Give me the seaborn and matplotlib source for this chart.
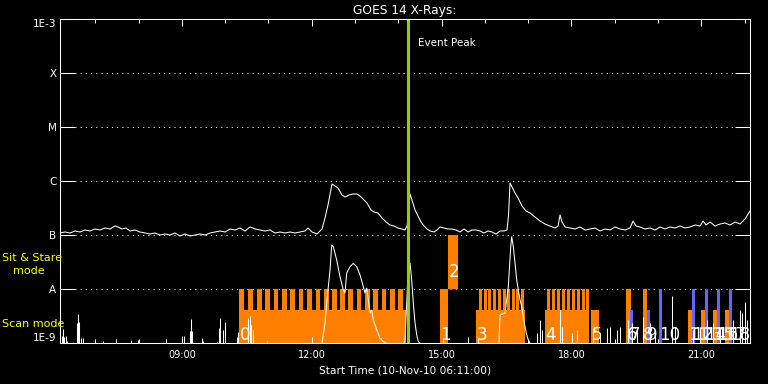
import numpy as np
import matplotlib
matplotlib.use("Agg")
import matplotlib.pyplot as plt
import seaborn as sns
from matplotlib.ticker import FixedLocator, NullLocator

# ---------------- data ----------------
start_hour, end_hour = 6.1833, 22.125          # 06:11 .. ~22:07
event_peak = 14.23

# GOES long channel (1-8 A), hours and flux in units of 1e-7 W/m^2
long_hours = [
    6.183, 6.299, 6.414, 6.530, 6.645, 6.761, 6.876, 6.992, 7.108, 7.223,
    7.339, 7.454, 7.523, 7.616, 7.708, 7.801, 7.916, 8.032, 8.147, 8.263,
    8.378, 8.494, 8.609, 8.725, 8.840, 8.956, 9.071, 9.187, 9.303, 9.418,
    9.534, 9.649, 9.765, 9.880, 9.996, 10.111, 10.227, 10.342, 10.458, 10.573,
    10.689, 10.804, 10.920, 11.035, 11.151, 11.266, 11.382, 11.497, 11.613, 11.728,
    11.844, 11.913, 12.006, 12.121, 12.237, 12.306, 12.375, 12.468, 12.537, 12.606,
    12.699, 12.768, 12.861, 12.953, 13.045, 13.115, 13.207, 13.277, 13.369, 13.438,
    13.531, 13.623, 13.716, 13.808, 13.900, 13.993, 14.085, 14.154, 14.201, 14.235,
    14.270, 14.316, 14.386, 14.455, 14.524, 14.593, 14.663, 14.732, 14.825, 14.894,
    14.963, 15.056, 15.148, 15.240, 15.333, 15.425, 15.518, 15.610, 15.703, 15.795,
    15.887, 15.980, 16.072, 16.165, 16.257, 16.350, 16.442, 16.511, 16.546, 16.581,
    16.627, 16.696, 16.765, 16.858, 16.950, 17.043, 17.158, 17.274, 17.389, 17.505,
    17.620, 17.690, 17.736, 17.782, 17.852, 17.967, 18.083, 18.198, 18.314, 18.429,
    18.545, 18.660, 18.776, 18.891, 19.007, 19.122, 19.238, 19.353, 19.423, 19.492,
    19.584, 19.700, 19.815, 19.931, 20.046, 20.162, 20.277, 20.393, 20.508, 20.624,
    20.739, 20.855, 20.971, 21.040, 21.109, 21.202, 21.317, 21.433, 21.548, 21.664,
    21.779, 21.895, 22.010, 22.125,
]
long_flux_e7 = [
    1.089, 1.137, 1.089, 1.186, 1.137, 1.238, 1.186, 1.292, 1.238, 1.348,
    1.292, 1.468, 1.407, 1.292, 1.348, 1.186, 1.238, 1.137, 1.089, 1.043,
    1.089, 1.000, 1.043, 1.000, 1.089, 0.958, 1.043, 0.958, 1.000, 1.043,
    1.000, 1.089, 1.137, 1.186, 1.137, 1.292, 1.238, 1.348, 1.186, 1.407,
    1.292, 1.238, 1.186, 1.238, 1.089, 1.137, 1.089, 1.137, 1.089, 1.137,
    1.186, 1.348, 1.137, 1.043, 1.292, 2.064, 3.594, 8.80, 8.08, 7.42,
    5.505, 5.054, 5.505, 5.745, 5.745, 5.275, 4.448, 3.914, 2.904, 2.667,
    2.555, 2.064, 1.741, 1.532, 1.468, 1.348, 1.292, 1.238, 1.468, 2.346,
    5.745, 4.448, 2.904, 2.248, 1.741, 1.468, 1.292, 1.186, 1.137, 1.238,
    1.407, 1.348, 1.292, 1.292, 1.238, 1.137, 1.292, 1.137, 1.238, 1.238,
    1.186, 1.089, 1.186, 1.137, 1.043, 1.186, 1.186, 1.238, 2.346, 9.18,
    7.74, 5.995, 4.843, 3.443, 2.783, 2.555, 2.154, 1.817, 1.598, 1.468,
    1.348, 1.468, 2.346, 1.741, 1.407, 1.348, 1.292, 1.407, 1.238, 1.292,
    1.348, 1.186, 1.292, 1.238, 1.407, 1.292, 1.238, 1.348, 1.817, 1.468,
    1.407, 1.292, 1.348, 1.238, 1.407, 1.292, 1.407, 1.348, 1.468, 1.348,
    1.407, 1.532, 1.468, 1.817, 1.532, 1.741, 1.468, 1.598, 1.668, 1.532,
    1.741, 1.598, 1.978, 2.783,
]

# GOES short channel (0.5-4 A) flare segments, flux in units of 1e-9 W/m^2
flare1_hours = [12.237, 12.306, 12.345, 12.422, 12.461, 12.498, 12.576, 12.653, 12.729,
                12.768, 12.808, 12.884, 12.960, 13.039, 13.115, 13.191, 13.230, 13.270,
                13.307, 13.346, 13.385, 13.422, 13.501, 13.577, 13.653, 13.716]
flare1_flux_e9 = [1.0, 2.35, 5.50, 22.5, 65.3, 60.7, 34.4, 16.9, 9.58,
                  8.43, 19.8, 25.9, 29.9, 25.9, 18.2, 11.0, 8.43, 10.4,
                  6.25, 3.59, 4.08, 2.67, 1.741, 1.238, 1.06, 1.0]
flare2_hours = [14.131, 14.154, 14.194, 14.231, 14.270, 14.309, 14.346, 14.386, 14.425, 14.462, 14.501]
flare2_flux_e9 = [1.0, 1.137, 5.50, 27.8, 30.2, 14.7, 5.50, 2.35, 1.407, 1.06, 1.0]
flare3_hours = [16.326, 16.350, 16.465, 16.541, 16.597, 16.620, 16.657, 16.696, 16.735,
                16.772, 16.812, 16.851, 16.888, 16.927, 16.966, 17.003, 17.043]
flare3_flux_e9 = [1.0, 3.30, 3.59, 11.0, 60.7, 93.0, 60.7, 30.2, 14.7,
                  9.58, 6.25, 4.70, 3.07, 2.00, 1.407, 1.137, 1.0]

# short channel isolated spikes above the 1e-9 floor
spike_hours = [6.223, 6.260, 6.283, 6.322, 6.352, 6.583, 6.606, 6.629, 6.662, 6.708,
               6.999, 7.170, 7.477, 7.817, 7.992, 8.632, 8.995, 9.048, 9.187, 9.217,
               9.240, 9.457, 9.494, 9.804, 9.857, 9.880, 9.956, 9.989, 10.003, 10.266,
               10.303, 10.534, 10.573, 10.596, 10.642, 10.959, 11.999, 15.039, 15.610, 15.841,
               17.198, 17.274, 17.313, 17.736, 17.775, 18.006, 18.122, 18.505, 18.660, 18.815,
               18.891, 19.046, 19.122, 19.314, 19.392, 19.508, 19.660, 19.815, 19.931, 20.331,
               20.393, 20.816, 20.971, 21.125, 21.278, 21.433, 21.740, 21.895, 21.934, 22.010,
               22.050]
spike_flux_e9 = [1.348, 1.817, 1.31, 1.348, 1.10, 2.35, 3.44, 2.45, 1.238, 1.238,
                 1.137, 1.09, 1.186, 1.137, 1.137, 1.186, 1.292, 1.348, 1.668, 2.78,
                 1.668, 1.238, 1.09, 1.06, 1.92, 2.90, 1.741, 2.48, 2.35, 1.31,
                 1.62, 2.90, 3.16, 2.15, 1.741, 1.09, 1.31, 1.238, 1.31, 1.238,
                 1.532, 2.67, 1.741, 4.08, 2.00, 1.532, 1.741, 1.896, 1.532, 1.896,
                 2.00, 1.741, 2.00, 2.67, 2.35, 1.896, 3.07, 2.35, 1.741, 7.42,
                 2.00, 1.741, 2.00, 2.67, 2.35, 1.741, 2.67, 4.08, 3.59, 5.82,
                 2.67]

# observations (numbered 0..18)
obs_labels = ["0", "1", "2", "3", "4", "5", "6", "7", "8", "9",
              "10", "11", "12", "13", "14", "15", "16", "17", "18"]
obs_start = [10.319, 14.963, 15.148, 15.795, 17.389, 18.452, 19.261, 19.341, 19.646, 19.739,
             20.023, 20.693, 20.786, 20.994, 21.086, 21.271, 21.364, 21.548, 21.641]
obs_end = [14.178, 15.148, 15.372, 16.934, 18.406, 18.637, 19.376, 19.423, 19.746, 19.815,
           20.092, 20.786, 20.855, 21.086, 21.156, 21.364, 21.433, 21.641, 21.710]
obs_level = ["low", "full", "sns", "low", "low", "low", "full", "low", "full", "low",
             "full", "low", "full", "low", "full", "low", "full", "low", "full"]
obs_group = ["a", "a", "a", "a", "a", "a", "a", "b", "a", "b",
             "b", "a", "b", "a", "b", "a", "b", "a", "b"]

# individual rasters inside the long scan observations
raster0_start = [10.319, 10.534, 10.742, 10.927, 11.121, 11.313, 11.504, 11.705, 11.897, 12.091,
                 12.283, 12.475, 12.653, 12.844, 13.039, 13.230, 13.422, 13.616, 13.808, 14.000]
raster3_start = [15.864, 15.973, 16.079, 16.188, 16.296, 16.412, 16.518, 16.620, 16.726, 16.835]
raster4_start = [17.428, 17.543, 17.659, 17.774, 17.890, 18.005, 18.121, 18.236, 18.329]

y_ticks = [1e-9, 1e-8, 1e-7, 1e-6, 1e-5, 1e-4, 1e-3]
y_ticklabels = ["1E-9", "A", "B", "C", "M", "X", "1E-3"]
x_major = [9, 12, 15, 18, 21]
x_ticklabels = ["09:00", "12:00", "15:00", "18:00", "21:00"]

# ---------------- style ----------------
ORANGE = "#ff8000"
BLUE = "#6464ff"
GREEN = "#9ccc00"
YELLOW = "#ffff00"
LW = 0.75

sns.set_theme(style="dark")
plt.rcParams.update({
    "font.family": ["DejaVu Sans"],
    "axes.facecolor": "black",
    "figure.facecolor": "black",
    "savefig.facecolor": "black",
    "axes.edgecolor": "white",
    "axes.linewidth": LW,
    "text.color": "white",
    "axes.labelcolor": "white",
    "xtick.color": "white",
    "ytick.color": "white",
    "axes.grid": False,
})

fig = plt.figure(figsize=(7.68, 3.84), dpi=100)
ax = fig.add_axes([60 / 768, 41 / 384, 690 / 768, 324 / 384])
ax.set_yscale("log")

level_range = {"low": (1e-9, 4.08e-9), "full": (1e-9, 1e-8), "sns": (1e-8, 1e-7)}
group_color = {"a": ORANGE, "b": BLUE}

# observation bars (orange first, blue on top)
for grp in ["a", "b"]:
    for s, e, lvl, g in zip(obs_start, obs_end, obs_level, obs_group):
        if g != grp:
            continue
        lo, hi = level_range[lvl]
        ax.bar(s, hi - lo, width=e - s, bottom=lo, align="edge",
               color=group_color[g], linewidth=0, zorder=1)

for starts, w in [(raster0_start, 0.104), (raster3_start, 0.072), (raster4_start, 0.076)]:
    ax.bar(starts, [1e-8 - 1e-9] * len(starts), width=w, bottom=1e-9, align="edge",
           color=ORANGE, linewidth=0, zorder=1)

# dotted class lines
for yv in y_ticks[1:-1]:
    ax.axhline(yv, xmin=15 / 690, xmax=676 / 690, color="white", lw=LW,
               ls=(0, (1, 4)), zorder=0.5)

# GOES curves
sns.lineplot(x=long_hours, y=np.array(long_flux_e7) * 1e-7, ax=ax, color="white",
             lw=LW, estimator=None, zorder=3)
for hrs, flx in [(flare1_hours, flare1_flux_e9), (flare2_hours, flare2_flux_e9),
                 (flare3_hours, flare3_flux_e9)]:
    sns.lineplot(x=hrs, y=np.array(flx) * 1e-9, ax=ax, color="white",
                 lw=LW, estimator=None, zorder=3)
ax.vlines(spike_hours, 1e-9, np.array(spike_flux_e9) * 1e-9, color="white", lw=LW, zorder=3)

# event peak
ax.axvline(event_peak, color=GREEN, lw=2.2, zorder=4)
ax.annotate("Event Peak", xy=(event_peak, 1e-3), xytext=(7, -17.5),
            textcoords="offset points", ha="left", va="center", fontsize=7.5, color="white")

# observation numbers
for lab, s, lvl in zip(obs_labels, obs_start, obs_level):
    if lvl == "sns":
        ax.text(s + 0.01, 2.07e-8, lab, ha="left", va="center", fontsize=12,
                color="white", zorder=5)
    else:
        ax.text(s + 0.01, 1.14e-9, lab, ha="left", va="baseline", fontsize=12,
                color="white", zorder=5)

ax.set_xlim(start_hour, end_hour)
ax.set_ylim(1e-9, 1e-3)

ax.yaxis.set_major_locator(FixedLocator(y_ticks))
ax.set_yticklabels(y_ticklabels)
ax.yaxis.set_minor_locator(NullLocator())
ax.tick_params(axis="y", which="major", direction="in", length=10.5, width=LW,
               left=True, right=True, pad=2.5, labelsize=7.5)
labs = ax.get_yticklabels()
labs[0].set_va("bottom")
labs[-1].set_va("top")

ax.xaxis.set_major_locator(FixedLocator(x_major))
ax.set_xticklabels(x_ticklabels)
ax.xaxis.set_minor_locator(FixedLocator(list(range(7, 23))))
ax.tick_params(axis="x", which="major", direction="in", length=4.8, width=LW,
               top=True, bottom=True, pad=5, labelsize=7)
ax.tick_params(axis="x", which="minor", direction="in", length=2.9, width=LW,
               top=True, bottom=True)

ax.set_xlabel("Start Time (10-Nov-10 06:11:00)", fontsize=7.6, labelpad=4)
ax.set_title("GOES 14 X-Rays:", fontsize=8.8, color="white", pad=3.5)

for sp in ax.spines.values():
    sp.set_color("white")
    sp.set_linewidth(LW)
    sp.set_zorder(6)

fig.text(2 / 768, 1 - 258 / 384, "Sit & Stare", color=YELLOW, fontsize=8,
         ha="left", va="center")
fig.text(13 / 768, 1 - 271 / 384, "mode", color=YELLOW, fontsize=8,
         ha="left", va="center")
fig.text(2 / 768, 1 - 324 / 384, "Scan mode", color=YELLOW, fontsize=8,
         ha="left", va="center")

fig.savefig("out.png", dpi=100, facecolor="black")
